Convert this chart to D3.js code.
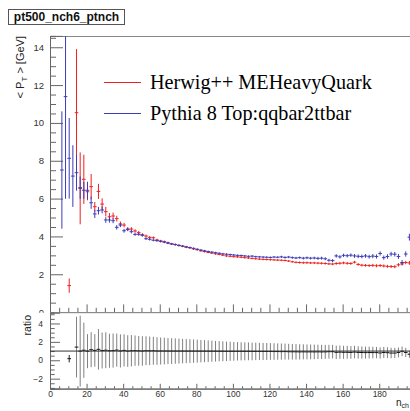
<!DOCTYPE html>
<html><head><meta charset="utf-8">
<script src="https://cdn.jsdelivr.net/npm/d3@7/dist/d3.min.js"></script>
<style>body{margin:0;background:#fff}svg{display:block}</style>
</head><body>
<svg id="c" width="410" height="411"></svg>
<script>
// ---------- data ----------
const binCenters = d3.range(6.5, 197, 2); // n_ch bin centres (bin width 2)
const herwig = [null,null,1.40,null,10.54,6.54,7.02,6.36,6.63,5.57,6.38,5.71,5.31,5.04,5.08,4.94,4.66,4.60,4.38,4.39,
 4.29,4.20,4.09,4.02,3.95,3.93,3.81,3.76,3.72,3.66,3.60,3.57,3.52,3.48,3.43,3.40,3.34,3.30,3.24,3.20,
 3.16,3.12,3.08,3.05,3.01,2.97,2.95,2.93,2.92,2.90,2.88,2.86,2.84,2.82,2.80,2.79,2.78,2.77,2.76,2.75,
 2.74,2.73,2.70,2.66,2.63,2.62,2.61,2.61,2.60,2.60,2.59,2.58,2.57,2.55,2.54,2.57,2.58,2.60,2.58,2.57,
 2.64,2.52,2.48,2.47,2.46,2.47,2.45,2.46,2.44,2.42,2.41,2.40,2.50,2.55,2.62,2.60];
const herwigErr = [null,null,0.38,null,3.36,1.9,1.3,0.45,0.67,0.25,0.4,0.3,0.25,0.2,0.18,0.15,0.13,0.12,0.1,0.1,
 0.09,0.09,0.08,0.08,0.07,0.07,0.07,0.06,0.06,0.06,0.05,0.05,0.05,0.05,0.05,0.05,0.05,0.05,0.05,0.05,
 0.05,0.05,0.05,0.05,0.05,0.05,0.05,0.05,0.05,0.05,0.05,0.05,0.05,0.05,0.05,0.05,0.05,0.05,0.05,0.05,
 0.05,0.05,0.05,0.05,0.05,0.06,0.06,0.06,0.06,0.06,0.06,0.06,0.06,0.06,0.06,0.07,0.07,0.07,0.07,0.07,
 0.07,0.07,0.07,0.07,0.07,0.08,0.08,0.08,0.08,0.08,0.08,0.08,0.09,0.09,0.09,0.1];
const pythia = [7.51,11.39,8.13,7.19,7.37,6.58,6.44,6.44,5.78,5.19,5.36,5.40,4.87,4.87,4.83,4.48,4.60,4.30,4.38,4.25,
 4.11,4.11,4.06,3.88,3.85,3.80,3.78,3.74,3.70,3.65,3.61,3.57,3.53,3.49,3.45,3.41,3.37,3.32,3.28,3.24,
 3.20,3.17,3.14,3.11,3.08,3.06,3.04,3.02,3.00,2.99,2.97,2.95,2.96,2.93,2.92,2.91,2.90,2.89,2.91,2.90,
 2.92,2.89,2.91,2.88,2.86,2.88,2.85,2.87,2.85,2.86,2.84,2.85,2.82,2.74,2.72,2.97,2.92,3.00,2.98,3.01,
 2.97,2.95,2.94,2.97,2.93,2.96,2.94,3.10,2.88,2.94,3.07,3.06,2.94,2.62,3.07,3.96];
const pythiaErr = [3.1,5.4,2.13,1.63,0.95,0.59,0.45,0.45,0.32,0.22,0.2,0.18,0.15,0.14,0.13,0.12,0.11,0.1,0.09,0.09,
 0.08,0.08,0.07,0.07,0.07,0.06,0.06,0.06,0.06,0.06,0.05,0.05,0.05,0.05,0.05,0.05,0.05,0.05,0.05,0.05,
 0.05,0.05,0.05,0.05,0.05,0.05,0.05,0.05,0.05,0.05,0.05,0.05,0.05,0.05,0.05,0.05,0.05,0.05,0.05,0.05,
 0.06,0.06,0.06,0.06,0.06,0.06,0.07,0.07,0.07,0.07,0.08,0.08,0.08,0.08,0.08,0.09,0.09,0.09,0.09,0.09,
 0.1,0.1,0.1,0.1,0.1,0.11,0.11,0.11,0.11,0.12,0.12,0.12,0.13,0.13,0.14,0.18];
const ratioErr = [null,null,0.4,null,3.3,3.85,3.0,1.85,1.9,1.77,2.2,1.95,1.95,1.85,1.85,1.8,1.8,1.75,1.72,1.7,
 1.65,1.62,1.6,1.57,1.55,1.52,1.5,1.47,1.45,1.42,1.4,1.38,1.36,1.33,1.31,1.29,1.27,1.25,1.22,1.2,
 1.18,1.15,1.12,1.1,1.08,1.06,1.04,1.02,1.0,0.99,0.98,0.97,0.96,0.95,0.94,0.93,0.92,0.91,0.9,0.89,
 0.88,0.87,0.86,0.85,0.84,0.83,0.82,0.81,0.8,0.79,0.78,0.77,0.76,0.75,0.74,0.73,0.72,0.71,0.7,0.69,
 0.68,0.67,0.66,0.65,0.64,0.63,0.62,0.61,0.6,0.59,0.57,0.56,0.54,0.52,0.5,0.4];
const seriesNames = ["Herwig++ MEHeavyQuark", "Pythia 8 Top:qqbar2ttbar"];
const seriesColors = ["#f02020", "#3c3cb8"];
const mainYTicks = [0,2,4,6,8,10,12,14];
const ratioYTicks = [-2,0,2,4];
const xTicks = [0,20,40,60,80,100,120,140,160,180];
const title = "pt500_nch6_ptnch";

// ---------- scales ----------
const svg = d3.select("#c");
svg.append("rect").attr("width",410).attr("height",411).attr("fill","#fff");
const x = d3.scaleLinear().domain([0,200]).range([50,415.8]);
const yM = d3.scaleLinear().domain([0,14.6]).range([312.1,35.9]);
const yR = d3.scaleLinear().domain([-3.08,5.17]).range([388.6,312.7]);
const halfBin = 1;
const axisCol = "#666", labCol = "#333", FONT = "'Liberation Sans', Arial, sans-serif";

function styleAxis(g){
  g.select(".domain").attr("stroke", axisCol);
  g.selectAll(".tick line").attr("stroke", axisCol);
  g.selectAll(".tick text").attr("fill", labCol).attr("font-family", FONT);
}

// ---------- main pad ----------
const main = svg.append("g");
svg.append("clipPath").attr("id","mclip").append("rect").attr("x",50).attr("y",36).attr("width",370).attr("height",276.5);

main.append("line").attr("x1",50).attr("x2",410).attr("y1",36.5).attr("y2",36.5).attr("stroke","#888");

const minorsMY = d3.range(0,14.6,0.5).filter(v=>Math.abs(v/2-Math.round(v/2))>1e-6);
main.append("g").attr("transform","translate(50,0)")
  .call(d3.axisLeft(yM).tickValues(minorsMY).tickSize(-6).tickFormat(""))
  .call(styleAxis);
main.append("g").attr("transform","translate(50,0)")
  .call(d3.axisLeft(yM).tickValues(mainYTicks).tickSize(-13).tickPadding(6).tickFormat(d3.format("d")))
  .call(styleAxis).call(g=>g.selectAll("text").attr("font-size",9.5));

const minorsX = d3.range(0,201,5).filter(v=>v%20!==0);
main.append("g").attr("transform","translate(0,312.1)")
  .call(d3.axisBottom(x).tickValues(minorsX).tickSize(-4.3).tickFormat(""))
  .call(styleAxis);
main.append("g").attr("transform","translate(0,312.1)")
  .call(d3.axisBottom(x).tickValues(xTicks).tickSize(-7.7).tickFormat(""))
  .call(styleAxis);

// data
const plot = main.append("g").attr("clip-path","url(#mclip)");
function drawSeries(vals, errs, col){
  const pts = binCenters.map((c,i)=>({c, v:vals[i], e:errs[i]})).filter(d=>d.v!=null);
  const g = plot.append("g").attr("stroke",col).attr("stroke-width",1);
  g.selectAll(".v").data(pts).join("line")
    .attr("x1",d=>x(d.c)).attr("x2",d=>x(d.c))
    .attr("y1",d=>yM(d.v+d.e)).attr("y2",d=>yM(d.v-d.e));
  g.selectAll(".h").data(pts).join("line")
    .attr("x1",d=>x(d.c-halfBin)).attr("x2",d=>x(d.c+halfBin))
    .attr("y1",d=>yM(d.v)).attr("y2",d=>yM(d.v));
}
drawSeries(herwig, herwigErr, seriesColors[0]);
drawSeries(pythia, pythiaErr, seriesColors[1]);

// y title
const yt = main.append("text").attr("transform","translate(24,36) rotate(-90)")
  .attr("text-anchor","end").attr("font-family",FONT).attr("font-size",11).attr("fill","#222");
yt.append("tspan").text("< P");
yt.append("tspan").attr("font-size",8).attr("dy",3).text("T");
yt.append("tspan").attr("dy",-3).text(" > [GeV]");

// legend
const leg = main.append("g");
[0,1].forEach(i=>{
  const ly = [82.5,113.5][i];
  leg.append("line").attr("x1",104).attr("x2",141).attr("y1",ly).attr("y2",ly)
    .attr("stroke",seriesColors[i]).attr("stroke-width",1);
  leg.append("text").attr("x",150).attr("y",ly+6.8).attr("font-family","'Liberation Serif', 'Times New Roman', serif")
    .attr("font-size",20.2).attr("fill","#000").text(seriesNames[i]);
});

// title box
svg.append("rect").attr("x",8.5).attr("y",9.5).attr("width",116).attr("height",15)
  .attr("fill","#fff").attr("stroke","#555");
svg.append("text").attr("x",66.5).attr("y",21.2).attr("text-anchor","middle")
  .attr("font-family",FONT).attr("font-weight","bold").attr("font-size",12).attr("fill","#111").text(title);

// ---------- ratio pad ----------
const rp = svg.append("g");
rp.append("rect").attr("x",0).attr("y",312.7).attr("width",410).attr("height",100).attr("fill","#fff");
rp.append("line").attr("x1",50).attr("x2",410).attr("y1",312.7).attr("y2",312.7).attr("stroke","#888");

const minorsRY = d3.range(-3,5.2,0.5).filter(v=>Math.abs(v/2-Math.round(v/2))>1e-6);
rp.append("g").attr("transform","translate(50,0)")
  .call(d3.axisLeft(yR).tickValues(minorsRY).tickSize(-4.7).tickFormat(""))
  .call(styleAxis);
rp.append("g").attr("transform","translate(50,0)")
  .call(d3.axisLeft(yR).tickValues(ratioYTicks).tickSize(-10).tickPadding(7).tickFormat(d3.format("d")))
  .call(styleAxis).call(g=>g.selectAll("text").attr("font-size",8.5));
rp.append("g").attr("transform","translate(0,388.6)")
  .call(d3.axisBottom(x).tickValues(minorsX).tickSize(-2.4).tickFormat(""))
  .call(styleAxis);
rp.append("g").attr("transform","translate(0,388.6)")
  .call(d3.axisBottom(x).tickValues(xTicks).tickSize(-4.8).tickPadding(2).tickFormat(d3.format("d")))
  .call(styleAxis).call(g=>g.selectAll("text").attr("font-size",8.5));

// ratio error bars (drawn under the unity line)
const rpts = binCenters.map((c,i)=>({c, h:herwig[i], p:pythia[i], e:ratioErr[i]}))
  .filter(d=>d.h!=null && d.p!=null).map(d=>({c:d.c, r:d.h/d.p, e:d.e}));
const rg = rp.append("g");
rg.selectAll(".re").data(rpts).join("line")
  .attr("x1",d=>x(d.c)).attr("x2",d=>x(d.c))
  .attr("y1",d=>yR(Math.min(d.r+d.e,5.17))).attr("y2",d=>yR(Math.max(d.r-d.e,-3.08)))
  .attr("stroke",(d,i)=>i===0?"#222":"#808080").attr("stroke-width",1);

// unity line
rp.append("line").attr("x1",50).attr("x2",410).attr("y1",yR(1)).attr("y2",yR(1)).attr("stroke","#333");

rg.selectAll(".rh").data(rpts).join("line")
  .attr("x1",d=>x(d.c-halfBin)).attr("x2",d=>x(d.c+halfBin))
  .attr("y1",d=>yR(d.r)).attr("y2",d=>yR(d.r)).attr("stroke","#111").attr("stroke-width",1);

// ratio title
rp.append("text").attr("transform","translate(31,315) rotate(-90)").attr("text-anchor","end")
  .attr("font-family",FONT).attr("font-size",10.5).attr("fill","#222").text("ratio");

// x title
const xt = rp.append("text").attr("x",396).attr("y",406).attr("font-family",FONT).attr("font-size",10).attr("fill","#222");
xt.append("tspan").text("n");
xt.append("tspan").attr("font-size",7).attr("dy",2).text("ch");
</script>
</body></html>
